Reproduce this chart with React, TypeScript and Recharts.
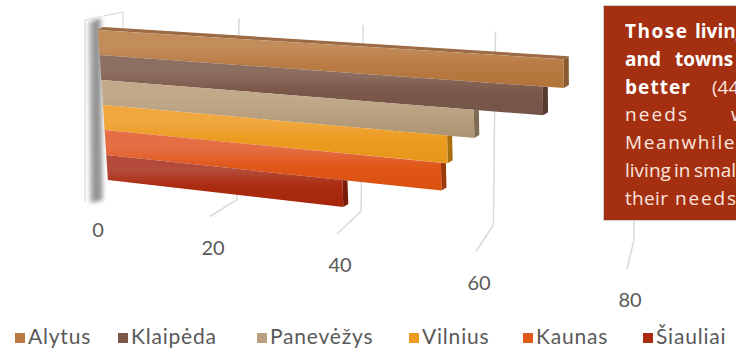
import React from "react";
import { BarChart, Bar, XAxis, YAxis, CartesianGrid, Legend } from "recharts";

// ---- data ----
const cities = ["Alytus", "Klaipėda", "Panevėžys", "Vilnius", "Kaunas", "Šiauliai"];
const shares = [71, 68, 58, 54, 53, 38];
const valueTicks = [0, 20, 40, 60, 80];

// ---- palette ----
const cityColors = ["#B97A44", "#7B5849", "#B8A080", "#EC9B1E", "#E0571A", "#AA2B10"];
const faceTop = ["#C28D5B", "#8D6F62", "#C1A98A", "#F0A73E", "#E56E44", "#B44A39"];
const faceBottom = ["#B3743A", "#74544A", "#AD9573", "#E5961A", "#D9500E", "#A6260A"];
const faceSide = ["#8A5A30", "#553B32", "#7F6C52", "#A96E10", "#9C3A0C", "#771C08"];

// callout words: [text, left x, width (0 = natural), bold]
const calloutLines: [string, number, number, boolean][][] = [
  [["Those", 625, 62, true], ["living", 695, 0, true]],
  [["and", 625, 0, true], ["towns", 675, 0, true]],
  [["better", 625, 65, true], ["(44%", 712, 0, false]],
  [["needs", 625, 62, false], ["with", 731, 0, false]],
  [["Meanwhile,", 625, 116, false]],
  [["living", 625, 0, false], ["in", 674, 0, false], ["smaller", 694, 0, false]],
  [["their", 625, 43, false], ["needs", 675, 61, false]],
];

const legendSquareX = [15, 118, 257, 409, 523, 643];

const rows = [
  cities.reduce<Record<string, number | string>>(
    (acc, c, i) => {
      acc[c] = shares[i];
      return acc;
    },
    { name: "" }
  ),
];

// ---- perspective projection of the flat plot ----
const W = 736;
const H = 350;
const PX0 = 98; // plot left
const PW = 530; // plot width
const PY0 = 30; // plot top
const PH = 152; // plot height
const AXIS_H = 30;
const VX = -2775;
const VY = -150;

function proj(px: number, py: number): [number, number] {
  const t = (px - PX0) / PW;
  const s = (py - PY0) * 0.066;
  const xl = PX0 + s;
  const X = PX0 + PW * (0.912 * t + 0.088 * t * t) + s * (1 - t);
  const Y = VY + (py - VY) * ((X - VX) / (xl - VX));
  return [X, Y];
}

const pts = (list: [number, number][]) => list.map((p) => `${p[0].toFixed(2)},${p[1].toFixed(2)}`).join(" ");

function Bar3D(props: any) {
  const { x, y, width, height, order } = props;
  if (!width || width <= 0) return null;
  const flt = proj(x, y);
  const frt = proj(x + width, y);
  const frb = proj(x + width, y + height);
  const flb = proj(x, y + height);
  const dx = 5;
  const dy = -3;
  const gid = `face-${order}`;
  const m = (frt[1] - flt[1]) / (frt[0] - flt[0]);
  let side: [number, number][];
  if (order === 0) {
    side = [frt, frb, [frb[0] + dx, frb[1] + dy], [frt[0] + dx, frt[1] + dy]];
  } else {
    side = [frt, frb, [frb[0] + dx, frb[1] + dy], [frt[0] + dx, frt[1] + dx * m]];
  }
  return (
    <g>
      <defs>
        <linearGradient id={gid} x1="0" y1="0" x2="0" y2="1">
          <stop offset="0%" stopColor={faceTop[order]} />
          <stop offset="30%" stopColor={faceTop[order]} />
          <stop offset="60%" stopColor={cityColors[order]} />
          <stop offset="100%" stopColor={faceBottom[order]} />
        </linearGradient>
      </defs>
      {order === 0 && (
        <polygon
          points={pts([flt, frt, [frt[0] + dx, frt[1] + dy], [flt[0] + dx, flt[1] + dy]])}
          fill="#9C6B45"
        />
      )}
      <polygon points={pts(side)} fill={faceSide[order]} />
      <polygon points={pts([flt, frt, frb, flb])} fill={`url(#${gid})`} />
    </g>
  );
}

// back wall / floor geometry for a value-axis position t in [0,1]
function backX(t: number) {
  return 123 + 513 * (0.872 * t + 0.128 * t * t);
}
function labelPos(t: number): [number, number] {
  return [98 + 436 * t + 96 * t * t, 230 + 70 * t];
}

function GridLine(props: any) {
  const { x1, index } = props;
  const t = (x1 - PX0) / PW;
  if (t < 0.01) {
    // side wall at the origin of the value axis
    return (
      <g key={`wall-${index}`}>
        <defs>
          <linearGradient id="wallShade" x1="0" y1="0" x2="1" y2="0">
            <stop offset="0%" stopColor="#D4D4D4" />
            <stop offset="50%" stopColor="#8C8C8C" />
            <stop offset="100%" stopColor="#A8A8A8" />
          </linearGradient>
          <linearGradient id="wallFade" x1="0" y1="0" x2="0" y2="1">
            <stop offset="0%" stopColor="#FFFFFF" stopOpacity={0.9} />
            <stop offset="12%" stopColor="#FFFFFF" stopOpacity={0} />
          </linearGradient>
          <filter id="wallBlur" x="-60%" y="-10%" width="220%" height="120%">
            <feGaussianBlur stdDeviation="2" />
          </filter>
        </defs>
        <polyline points="123,30 123,12 85,20 85,202" fill="none" stroke="#DADADA" strokeWidth={1.2} />
        <polygon points="88,22 101,18 103,200 90,203" fill="url(#wallShade)" filter="url(#wallBlur)" />
        <polygon points="86,18 104,14 104,60 86,60" fill="url(#wallFade)" />
      </g>
    );
  }
  const bx = backX(t);
  const topY = 12 + 26 * t;
  const botY = 190 + 35 * t + 15 * t * t;
  const [lx, ly] = labelPos(t);
  return (
    <polyline
      key={`grid-${index}`}
      points={`${bx},${topY} ${bx - 2},${botY} ${lx - 3},${ly - 31}`}
      fill="none"
      stroke="#D9D9D9"
      strokeWidth={1.5}
    />
  );
}

function ValueTick(props: any) {
  const { x, payload } = props;
  const t = (x - PX0) / PW;
  const [lx, ly] = labelPos(t);
  return (
    <text
      x={lx}
      y={ly + 7}
      textAnchor="middle"
      fontFamily="Lato, 'Open Sans', sans-serif"
      fontSize={20}
      fill="#595959"
    >
      {payload.value}
    </text>
  );
}

function CityLegend(props: any) {
  const payload: any[] = props.payload || [];
  return (
    <svg width={W} height={28} style={{ display: "block" }}>
      {cities.map((c, i) => {
        const entry = payload.find((p) => p.value === c || p.dataKey === c);
        const color = entry?.color || cityColors[i];
        const sx = legendSquareX[i];
        return (
          <g key={c}>
            <rect x={sx} y={11} width={10} height={10} fill={color} />
            <text
              x={sx + 13}
              y={22}
              fontFamily="Lato, 'Open Sans', sans-serif"
              fontSize={21}
              letterSpacing={0.8}
              fill="#595959"
            >
              {c}
            </text>
          </g>
        );
      })}
    </svg>
  );
}

export default function App() {
  return (
    <div
      style={{
        position: "absolute",
        left: 0,
        top: 0,
        width: W,
        height: H,
        overflow: "hidden",
        background: "#FFFFFF",
      }}
    >
      <BarChart
        width={W}
        height={H}
        data={rows}
        layout="vertical"
        margin={{ top: PY0, right: W - PX0 - PW, bottom: H - PY0 - PH - AXIS_H, left: PX0 }}
        barCategoryGap={0}
        barGap={0}
      >
        <CartesianGrid horizontal={false} vertical={(p: any) => <GridLine {...p} />} />
        <XAxis
          type="number"
          domain={[0, 80]}
          ticks={valueTicks}
          interval={0}
          height={AXIS_H}
          axisLine={false}
          tickLine={false}
          tick={(p: any) => <ValueTick {...p} />}
        />
        <YAxis type="category" dataKey="name" hide />
        <Legend
          layout="vertical"
          align="center"
          verticalAlign="middle"
          wrapperStyle={{ left: 0, top: 322, width: W, height: 28 }}
          content={(p: any) => <CityLegend {...p} />}
        />
        {cities.map((c, i) => (
          <Bar
            key={c}
            dataKey={c}
            fill={cityColors[i]}
            isAnimationActive={false}
            shape={(p: any) => <Bar3D {...p} order={i} />}
          />
        ))}
      </BarChart>
      <svg
        width={W}
        height={H}
        style={{ position: "absolute", left: 0, top: 0, pointerEvents: "none" }}
      >
        <rect x={603.5} y={5.5} width={200} height={215} fill="#A53011" stroke="#D0D0D0" strokeWidth={1} />
        {calloutLines.map((line, li) =>
          line.map(([w, wx, ww, bold], wi) => (
            <text
              key={`${li}-${wi}`}
              x={wx}
              y={38 + li * 27.8}
              {...(ww > 0 ? { textLength: ww, lengthAdjust: "spacing" } : {})}
              fontFamily="'Open Sans', Lato, sans-serif"
              fontSize={19}
              fontWeight={bold ? 700 : 400}
              fill={bold ? "#FFFFFF" : "#FBE6DF"}
            >
              {w}
            </text>
          ))
        )}
      </svg>
    </div>
  );
}
